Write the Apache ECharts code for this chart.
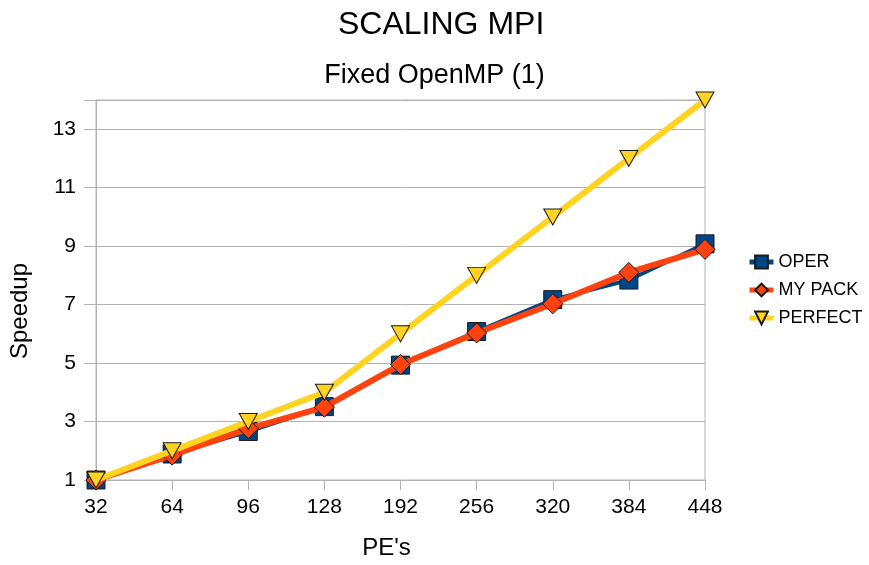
<!DOCTYPE html>
<html><head><meta charset="utf-8">
<script src="https://cdn.jsdelivr.net/npm/echarts@6/dist/echarts.min.js"></script>
<style>html,body{margin:0;padding:0;background:#fff}#c{width:869px;height:565px}</style>
</head><body><div id="c"></div>
<script>
var categories = ['32','64','96','128','192','256','320','384','448'];
var oper = [1, 1.89, 2.66, 3.51, 4.93, 6.08, 7.17, 7.84, 9.08];
var mypack = [1, 1.85, 2.76, 3.49, 4.95, 6.03, 7.03, 8.1, 8.89];
var perfect = [1, 2, 3, 4, 6, 8, 10, 12, 14];
var seriesNames = ['OPER', 'MYPACK', 'PERFECT'];
var legendLabels = ['OPER', 'MY PACK', 'PERFECT'];

var chart = echarts.init(document.getElementById('c'));
var font = 'Liberation Sans';
chart.setOption({
  animation: false,
  textStyle: {fontFamily: font},
  title: [
    {text: 'SCALING MPI', left: 338, top: 9, padding: 0, textStyle: {fontFamily: font, fontSize: 32, fontWeight: 'normal', color: '#000'}},
    {text: 'Fixed OpenMP (1)', left: 'center', top: 57, textStyle: {fontFamily: font, fontSize: 27, fontWeight: 'normal', color: '#000'}}
  ],
  legend: {
    orient: 'vertical', left: 742, top: 248, itemGap: 10, itemWidth: 24, itemHeight: 16,
    textStyle: {fontFamily: font, fontSize: 18, color: '#000'},
    data: [
      {name: 'OPER', lineStyle: {width: 5}},
      {name: 'MYPACK', lineStyle: {width: 5}},
      {name: 'PERFECT', lineStyle: {width: 5}}
    ],
    formatter: function(n){ return legendLabels[seriesNames.indexOf(n)]; }
  },
  grid: {left: 96, right: 164, top: 100, bottom: 83, show: true, borderColor: '#b3b3b3', borderWidth: 1},
  xAxis: {
    type: 'category', data: categories, boundaryGap: false,
    name: "PE's", nameLocation: 'middle', nameGap: 56,
    nameTextStyle: {fontFamily: font, fontSize: 24, color: '#000', padding: [0, 28, 0, 0]},
    axisLine: {lineStyle: {color: '#b3b3b3'}},
    axisTick: {show: true, length: 10, lineStyle: {color: '#b3b3b3'}, alignWithLabel: true},
    axisLabel: {fontFamily: font, fontSize: 21, color: '#000', margin: 17},
    splitLine: {show: false}
  },
  yAxis: {
    type: 'value', min: 1, max: 14, interval: 2,
    name: 'Speedup', nameLocation: 'middle', nameGap: 64, nameRotate: 90,
    nameTextStyle: {fontFamily: font, fontSize: 24, color: '#000', padding: [0, 42, 0, 0]},
    axisLine: {show: true, lineStyle: {color: '#b3b3b3'}},
    axisTick: {show: true, length: 12, lineStyle: {color: '#b3b3b3'}},
    axisLabel: {fontFamily: font, fontSize: 21, color: '#000', margin: 20,
      formatter: function(v){ return v >= 14 ? '' : v; }},
    splitLine: {show: true, lineStyle: {color: '#b3b3b3'}}
  },
  series: [
    {name: 'OPER', type: 'line', data: oper, symbol: 'rect', symbolSize: 18,
      lineStyle: {color: '#004586', width: 4}, itemStyle: {color: '#004586', borderColor: '#1a1a1a', borderWidth: 1}, z: 2},
    {name: 'MYPACK', type: 'line', data: mypack, symbol: 'diamond', symbolSize: 20,
      lineStyle: {color: '#ff420e', width: 6}, itemStyle: {color: '#ff420e', borderColor: '#1a1a1a', borderWidth: 1}, z: 3},
    {name: 'PERFECT', type: 'line', data: perfect, symbol: 'triangle', symbolRotate: 180, symbolSize: [18, 16],
      lineStyle: {color: '#ffd320', width: 6}, itemStyle: {color: '#ffd320', borderColor: '#1a1a1a', borderWidth: 1}, z: 4}
  ]
});
</script></body></html>
